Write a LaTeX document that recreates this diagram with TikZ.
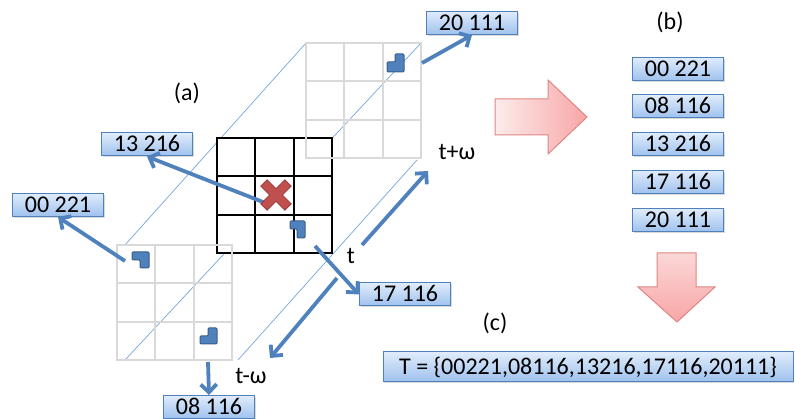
\documentclass[tikz,border=0pt]{standalone}
\usepackage{fontspec}
\setmainfont{Carlito}
\usetikzlibrary{arrows.meta,shadows}
\definecolor{linkblue}{RGB}{79,129,189}
\definecolor{markdark}{RGB}{56,93,138}
\definecolor{boxtop}{RGB}{224,236,251}
\definecolor{boxbot}{RGB}{158,193,238}
\definecolor{gridgray}{RGB}{217,217,217}
\definecolor{edgeblue}{RGB}{120,165,215}
\definecolor{crossred}{RGB}{192,80,77}
\definecolor{crossdark}{RGB}{150,60,58}
\definecolor{pinklight}{RGB}{253,236,236}
\definecolor{pinkdark}{RGB}{248,166,166}
\definecolor{pinkedge}{RGB}{222,134,132}
\tikzset{
  code/.style={draw=linkblue, line width=1pt, top color=boxtop, bottom color=boxbot,
    minimum width=91pt, minimum height=23pt, inner sep=0pt, text height=15pt, text depth=0pt,
    drop shadow={shadow xshift=1pt, shadow yshift=-1.5pt, opacity=.3}},
  link/.style={draw=linkblue, line width=3.8pt, -{Straight Barb[length=8pt,width=16pt]}},
  marker/.style={fill=linkblue, draw=markdark, line width=1pt, rounded corners=1pt},
  edge/.style={draw=edgeblue, line width=0.7pt},
  bigarrow/.style={draw=pinkedge, line width=1pt},
}
\begin{document}
\begin{tikzpicture}[x=1pt, y=-1pt, font=\fontsize{24}{28}\selectfont]
  \useasboundingbox (0,0) rectangle (795,419);
  % edges of the time window
  \draw[edge] (125,245) -- (306,43);
  \draw[edge] (125,360) -- (422,42);
  \draw[edge] (238,360) -- (417,160);
  % frames t, t-w, t+w
  \fill[white] (217,138) rectangle (332,253);
  \draw[black, line width=2.3pt, line cap=rect, shift={(217,138)}] (0,115) grid[step=38.33pt] (115,0);
  \draw[gridgray, line width=2pt, line cap=rect, shift={(117,245)}] (0,115) grid[step=38.33pt] (115,0);
  \draw[gridgray, line width=2pt, line cap=rect, shift={(306,43)}] (0,115) grid[step=38.33pt] (115,0);
  % start points
  \coordinate (m20) at (422,63);
  \coordinate (xc) at (268,204);
  \coordinate (m00) at (125,261);
  \coordinate (m17) at (315,246);
  \coordinate (m08) at (208,362);
  \coordinate (tc1) at (362,245);
  \coordinate (tp) at (428,171);
  \coordinate (tc2) at (337,278);
  \coordinate (tm) at (270,358);
  % boxes
  \node[code] (c20) at (472,23) {20 111};
  \node[code] (c13) at (147,144.5) {13 216};
  \node[code] (c00) at (58,205) {00 221};
  \node[code] (c17) at (405,294.5) {17 116};
  \node[code] (c08) at (209,407) {08 116};
  \node[code] (b00) at (678,69) {00 221};
  \node[code] (b08) at (678,106.5) {08 116};
  \node[code] (b13) at (678,144.5) {13 216};
  \node[code] (b17) at (678,182) {17 116};
  \node[code] (b20) at (678,220) {20 111};
  \node[code, minimum width=410pt, minimum height=30pt] (T) at (588,367) {T = \{00221,08116,13216,17116,20111\}};
  % labels
  \node (la) at (187,93) {(a)};
  \node (lb) at (670,22) {(b)};
  \node (lc) at (495,323) {(c)};
  \node (t0) at (351,256) {t};
  \node (t1) at (457,152) {t+ω};
  \node (t2) at (251,376) {t-ω};
  % links
  \draw[link] (m20) to (c20.south);
  \draw[link] (xc) to (c13.south);
  \draw[link] (m00) to (c00.south);
  \draw[link] (m17) to (c17.west);
  \draw[link] (m08) to (c08.north);
  \draw[link] (tc1) to (tp);
  \draw[link] (tc2) to (tm);
  % markers
  \draw[marker] (395,54) -- (404,54) -- (404,72) -- (387,72) -- (387,62) -- (395,62) -- cycle;
  \draw[marker] (290,221) -- (305,221) -- (305,238) -- (297,238) -- (297,229) -- (290,229) -- cycle;
  \draw[marker] (132,252) -- (149,252) -- (149,268) -- (140,268) -- (140,260) -- (132,260) -- cycle;
  \draw[marker] (208,328) -- (217,328) -- (217,344) -- (200,344) -- (200,336) -- (208,336) -- cycle;
  % cross
  \begin{scope}[shift={(276,195)}, rotate=45]
    \draw[fill=crossred, draw=crossdark, line width=0.8pt]
      (4.5,4.5) -- (4.5,17) -- (-4.5,17) -- (-4.5,4.5) -- (-17,4.5) -- (-17,-4.5) -- (-4.5,-4.5)
      -- (-4.5,-17) -- (4.5,-17) -- (4.5,-4.5) -- (17,-4.5) -- (17,4.5) -- cycle;
  \end{scope}
  % big arrows
  \shade[bigarrow, left color=pinklight, right color=pinkdark]
    (495,99) -- (548,99) -- (548,80) -- (587,117) -- (548,154) -- (548,135) -- (495,135) -- cycle;
  \shade[bigarrow, top color=pinklight!70!pinkdark, bottom color=pinkdark]
    (657,253) -- (696,253) -- (696,287) -- (715,287) -- (677,322) -- (638,287) -- (657,287) -- cycle;
\end{tikzpicture}
\end{document}
